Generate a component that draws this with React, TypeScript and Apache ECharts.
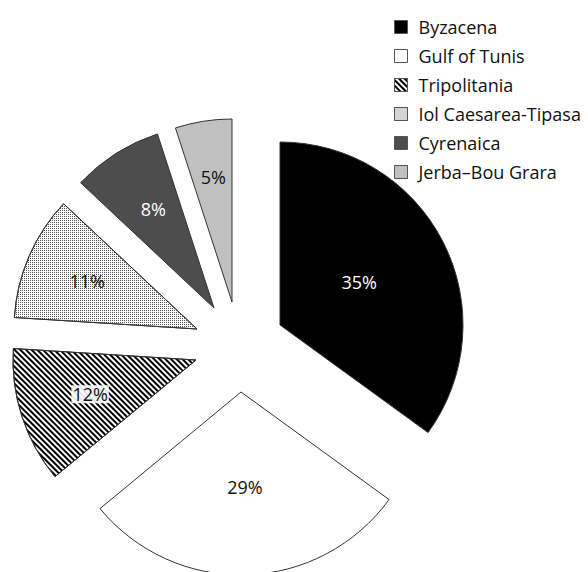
import { useEffect, useRef } from 'react';
import * as echarts from 'echarts';

// Share of finds by region (%)
const regions = [
  'Byzacena',
  'Gulf of Tunis',
  'Tripolitania',
  'Iol Caesarea-Tipasa',
  'Cyrenaica',
  'Jerba–Bou Grara',
];
const shares = [35, 29, 12, 11, 8, 5];

// Fill styles per region
const fills = ['#000000', '#ffffff', '#ffffff', '#ffffff', '#4d4d4d', '#c0c0c0'];
const labelColors = ['#ffffff', '#111111', '#111111', '#111111', '#ffffff', '#111111'];

const stripes = {
  symbol: 'rect',
  symbolSize: 1,
  dashArrayX: [1, 0],
  dashArrayY: [2, 2],
  rotation: Math.PI / 4,
  color: '#000000',
};
const dots = {
  symbol: 'rect',
  symbolSize: 1,
  dashArrayX: [1, 1],
  dashArrayY: [1, 1],
  color: '#555555',
};
const decals: any[] = [null, null, stripes, dots, null, null];

// Exploded layout: the apex of each slice, and a nudge for its label
const sliceCenters = [
  [280, 325],
  [241, 392],
  [196, 360],
  [197, 329],
  [214, 308],
  [232, 302],
];
const labelOffsets = [
  [-5, 0],
  [1, 1],
  [-16, 5],
  [-23, -10],
  [-10, -19],
  [-4, -32],
];
const RADIUS = 183;
const FONT = '"Open Sans", "Noto Sans", sans-serif';

function sliceStyle(i: number) {
  const style: any = {
    color: fills[i],
    borderColor: '#333333',
    borderWidth: 1,
  };
  if (decals[i]) style.decal = decals[i];
  return style;
}

export default function App() {
  const ref = useRef<HTMLDivElement>(null);

  useEffect(() => {
    if (!ref.current) return;
    const chart = echarts.init(ref.current, null, { renderer: 'svg' });

    // One pie per slice so every slice can sit at its own exploded position;
    // the other slices of each pie are left invisible.
    const series = regions.map((_, k) => ({
      type: 'pie',
      center: sliceCenters[k],
      radius: [0, RADIUS],
      startAngle: 90,
      clockwise: true,
      silent: true,
      emphasis: { disabled: true },
      labelLine: { show: false },
      data: regions.map((name, i) =>
        i === k
          ? {
              name,
              value: shares[i],
              itemStyle: sliceStyle(i),
              label: {
                show: true,
                position: 'inside',
                formatter: (p: any) => `${p.value}%`,
                color: labelColors[i],
                fontFamily: FONT,
                fontSize: 18,
                offset: labelOffsets[i],
                ...(i === 2
                  ? { backgroundColor: 'rgba(255,255,255,0.9)', padding: [0, 1] }
                  : {}),
              },
            }
          : {
              name,
              value: shares[i],
              itemStyle: { color: 'transparent', borderWidth: 0 },
              label: { show: false },
            }
      ),
    }));

    chart.setOption({
      animation: false,
      backgroundColor: '#ffffff',
      legend: {
        orient: 'vertical',
        left: 394,
        top: 18,
        padding: 0,
        itemWidth: 13,
        itemHeight: 13,
        itemGap: 11,
        selectedMode: false,
        textStyle: {
          fontFamily: FONT,
          fontSize: 18,
          color: '#111111',
          padding: [0, 0, 0, 6],
        },
        data: regions.map((name, i) => ({
          name,
          icon: 'rect',
          itemStyle: { ...sliceStyle(i), borderColor: '#555555' },
        })),
      },
      series,
    } as any);

    return () => chart.dispose();
  }, []);

  return (
    <div
      ref={ref}
      style={{ position: 'absolute', left: 0, top: 0, width: 588, height: 572 }}
    />
  );
}
